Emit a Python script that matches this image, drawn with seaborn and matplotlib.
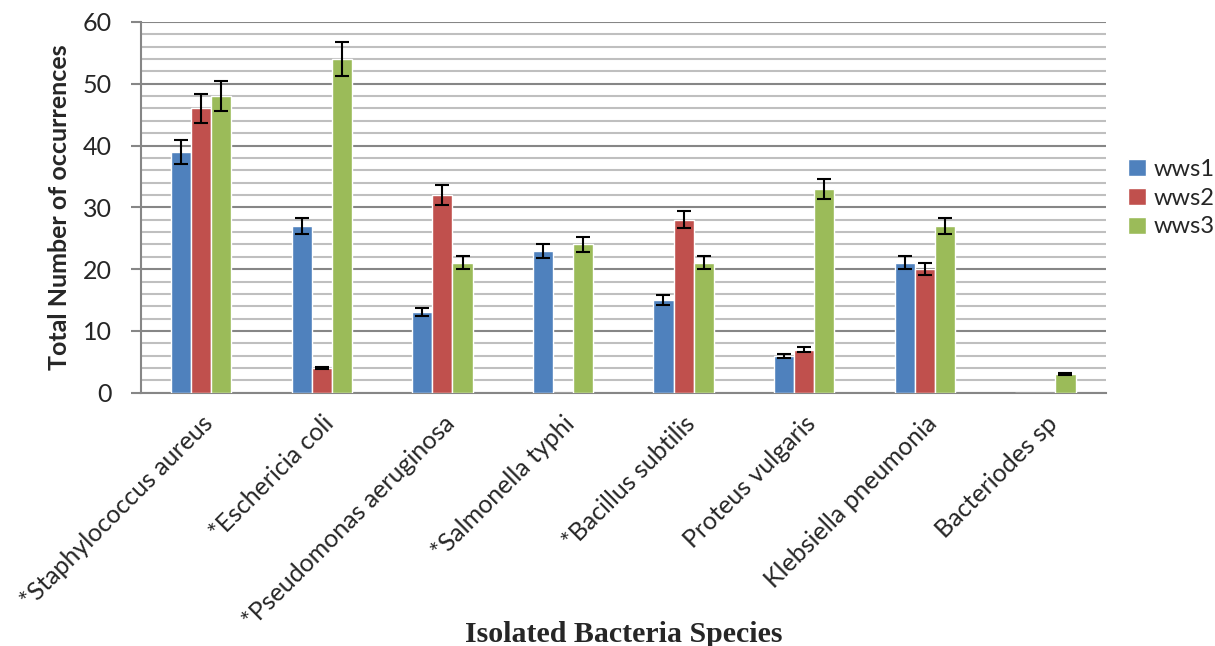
import pandas as pd
import matplotlib
matplotlib.use("Agg")
import matplotlib.pyplot as plt
import seaborn as sns
from matplotlib.ticker import MultipleLocator

# values
species = ["*Staphylococcus aureus", "*Eschericia coli", "*Pseudomonas aeruginosa",
           "*Salmonella typhi", "*Bacillus subtilis", "Proteus vulgaris",
           "Klebsiella pneumonia", "Bacteriodes sp"]
wws1 = [39, 27, 13, 23, 15, 6, 21, 0]
wws2 = [46, 4, 32, 0, 28, 7, 20, 0]
wws3 = [48, 54, 21, 24, 21, 33, 27, 3]
err1 = [1.95, 1.35, 0.65, 1.15, 0.75, 0.3, 1.05, 0]
err2 = [2.3, 0.2, 1.6, 0, 1.4, 0.35, 1.0, 0]
err3 = [2.4, 2.7, 1.05, 1.2, 1.05, 1.65, 1.35, 0.15]
sites = ["wws1", "wws2", "wws3"]
colors = ["#4F81BD", "#C0504D", "#9BBB59"]

df = pd.DataFrame({
    "Species": species * 3,
    "Site": [s for s in sites for _ in species],
    "Count": wws1 + wws2 + wws3,
})
errs = [err1, err2, err3]

sns.set_style("white")
plt.rcParams["font.family"] = ["Lato", "DejaVu Sans"]

fig = plt.figure(figsize=(12.15, 6.46), dpi=100)
ax = fig.add_axes([0.116, 0.392, 0.794, 0.574])

sns.barplot(data=df, x="Species", y="Count", hue="Site", palette=colors,
            width=0.5, errorbar=None, saturation=1, ax=ax, zorder=3)

# error bars on top of each bar (skip the empty ones)
for cont, e in zip(ax.containers, errs):
    pts = [(p.get_x() + p.get_width() / 2, p.get_height(), ee)
           for p, ee in zip(cont.patches, e) if ee > 0]
    xs, hs, es = zip(*pts)
    ax.errorbar(xs, hs, yerr=es, fmt="none", ecolor="black", elinewidth=1.5,
                capsize=5, capthick=1.5, zorder=4)

ax.set_ylim(0, 60)
ax.set_xlim(-0.5, 7.5)
ax.yaxis.set_major_locator(MultipleLocator(10))
ax.yaxis.set_minor_locator(MultipleLocator(2))
ax.grid(which="minor", axis="y", color="#BFBFBF", linewidth=1.5, zorder=0)
ax.grid(which="major", axis="y", color="#868686", linewidth=1.5, zorder=0)
ax.set_axisbelow(True)

for side in ["top", "right"]:
    ax.spines[side].set_visible(False)
for side in ["left", "bottom"]:
    ax.spines[side].set_color("#868686")
    ax.spines[side].set_linewidth(1.5)

ax.tick_params(axis="y", which="major", left=True, length=7, color="#868686",
               width=1.5, labelsize=18, pad=14)
ax.tick_params(axis="y", which="minor", left=False)
ax.tick_params(axis="x", bottom=False, labelsize=18, pad=10)
plt.setp(ax.get_xticklabels(), rotation=45, ha="right", rotation_mode="anchor")

ax.set_ylabel("Total Number of occurrences", fontsize=18, fontweight="bold")
ax.yaxis.set_label_coords(-0.072, 0.5)
ax.set_xlabel("Isolated Bacteria Species", fontsize=21.5, fontweight="bold",
              family="Liberation Serif")
ax.xaxis.set_label_coords(0.5, -0.615)

ax.legend(title=None, loc="center left", bbox_to_anchor=(1.006, 0.525), frameon=False,
          fontsize=17, handlelength=0.75, handleheight=0.75, handletextpad=0.35,
          labelspacing=0.33, borderaxespad=0.3)

fig.savefig("out.png", dpi=100)
